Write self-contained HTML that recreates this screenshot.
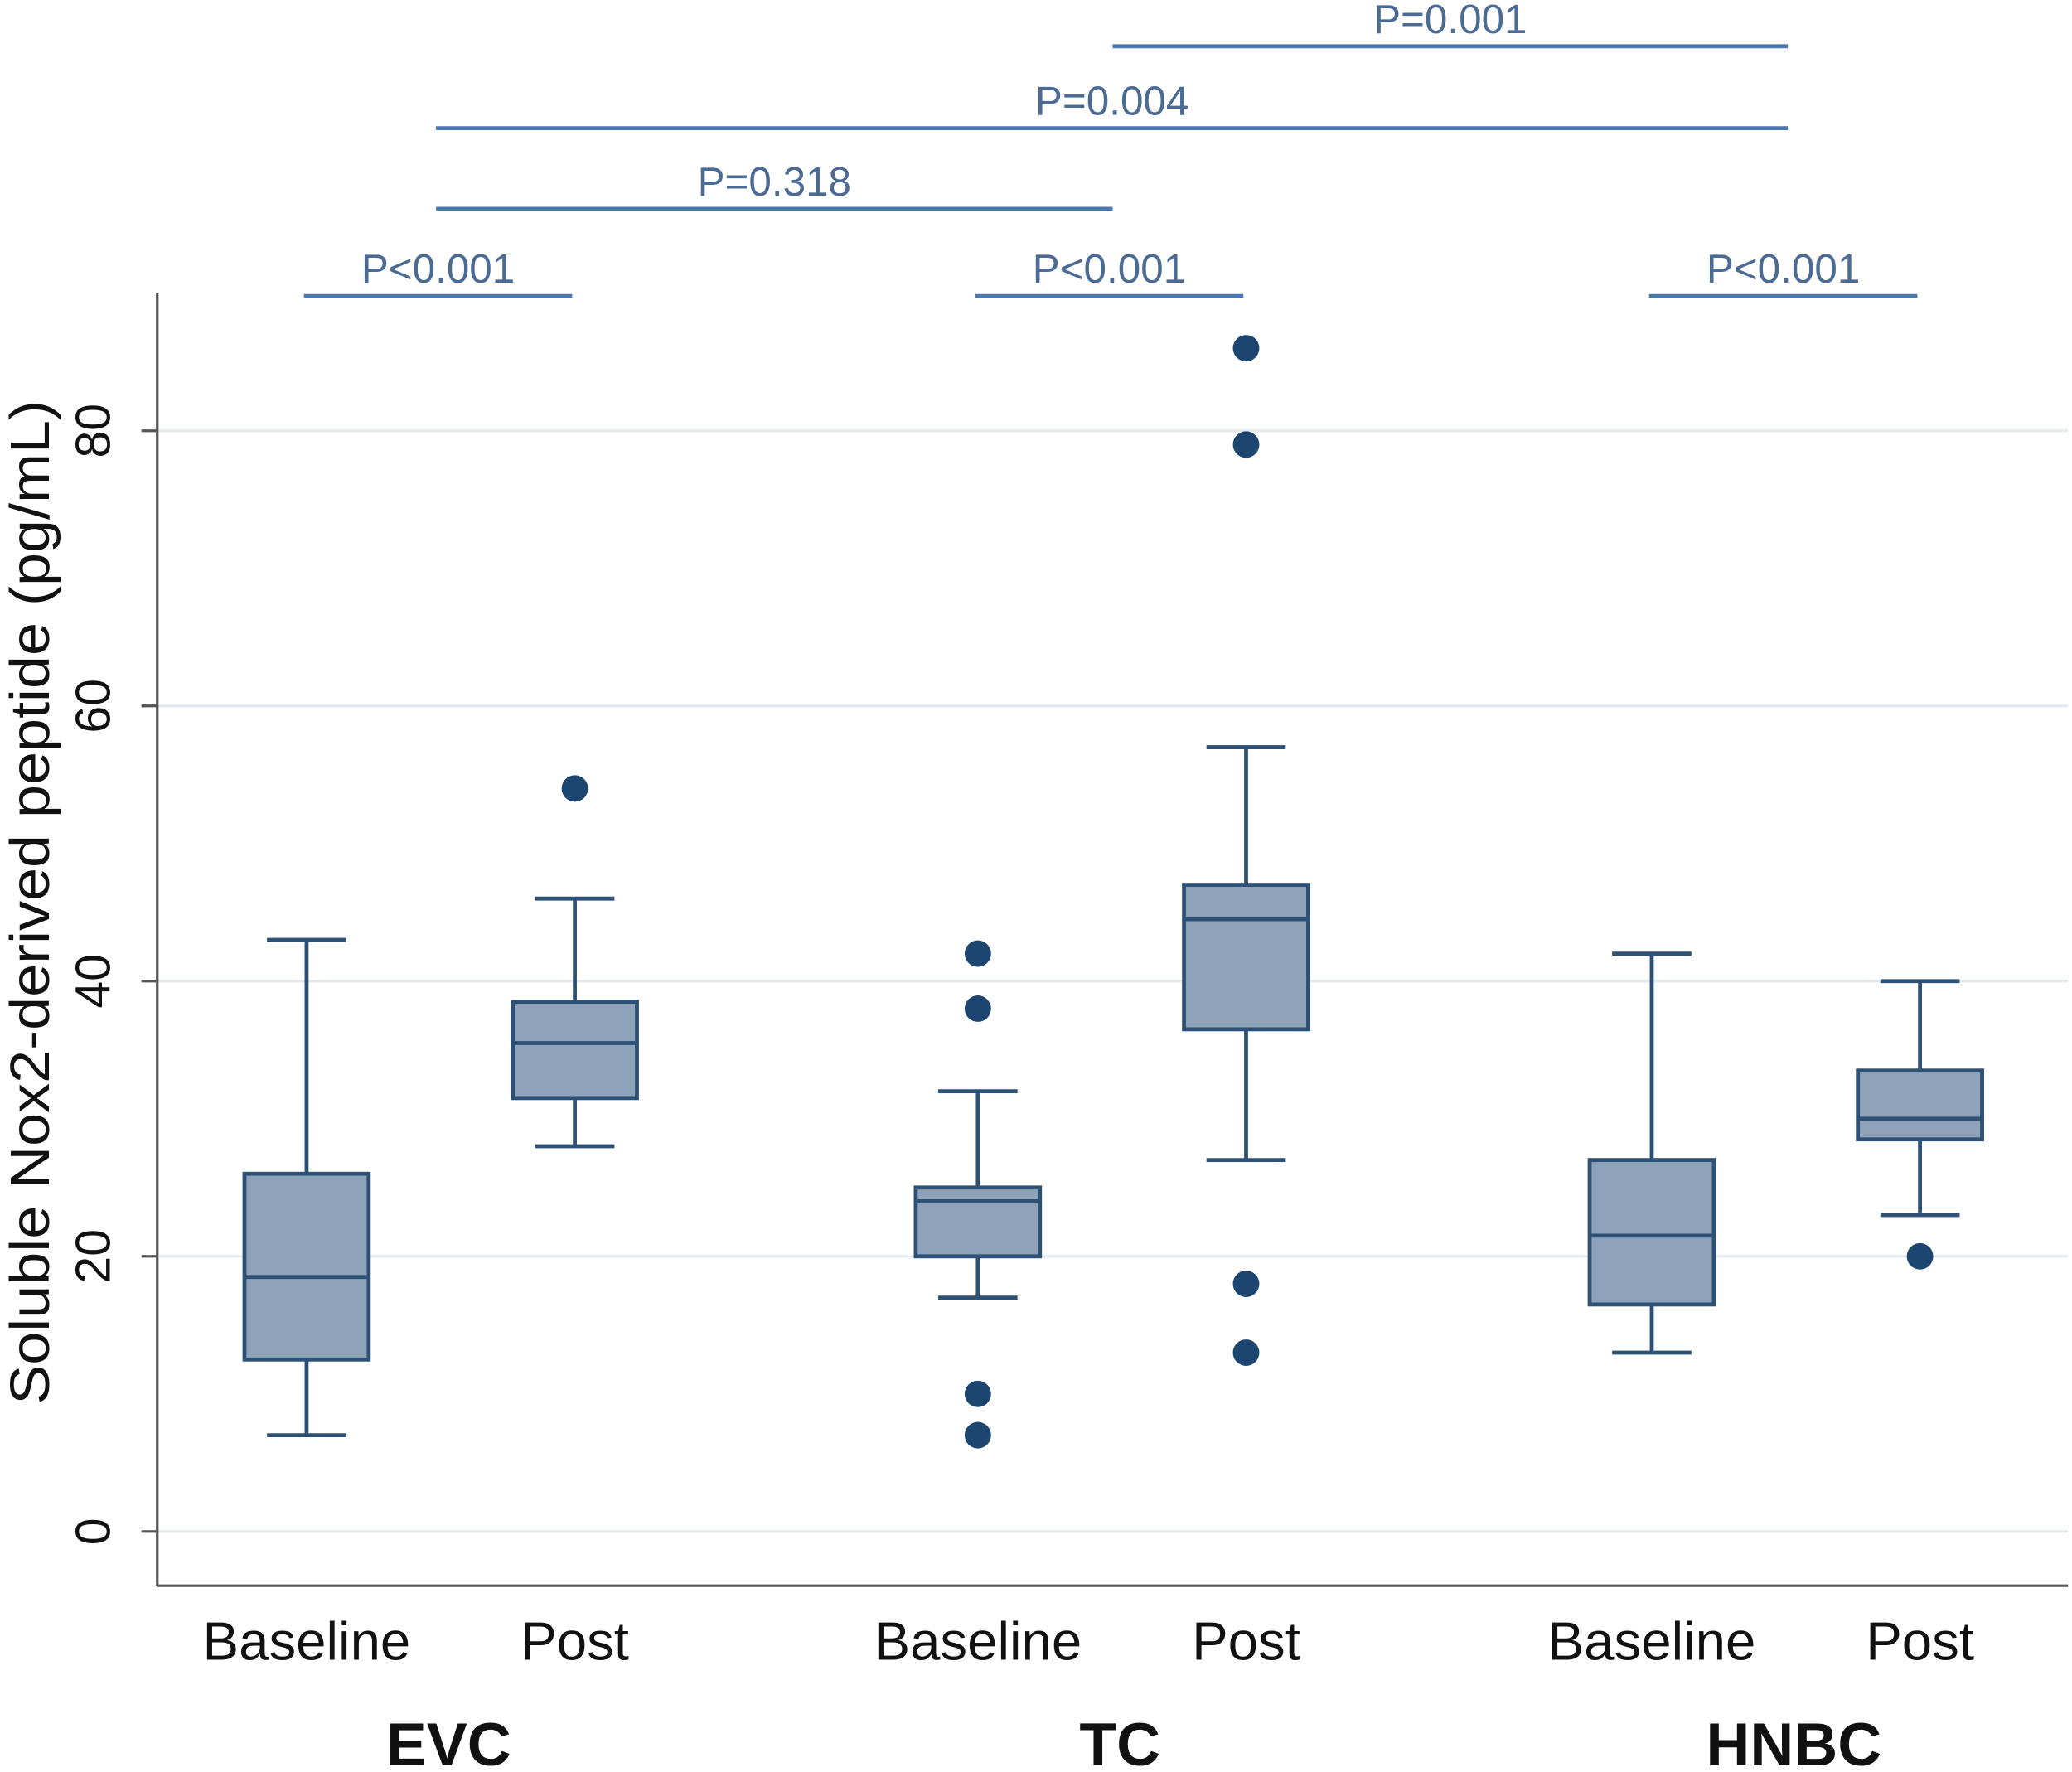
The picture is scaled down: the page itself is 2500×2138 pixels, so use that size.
<!DOCTYPE html>
<html><head><meta charset="utf-8"><style>
html,body{margin:0;padding:0;background:#fff;}
svg{display:block;}
</style></head><body>
<svg id="chart" width="2500" height="2138" viewBox="0 0 1568 1341" xmlns="http://www.w3.org/2000/svg" font-family="Liberation Sans, sans-serif"></svg>
<script>
const categories = ["Baseline","Post","Baseline","Post","Baseline","Post"];
const groups = ["EVC","TC","HNBC"];
const whiskerLow = [7,28,17,27,13,23];
const q1 = [12.5,31.5,20,36.5,16.5,28.5];
const medians = [18.5,35.5,24,44.5,21.5,30];
const q3 = [26,38.5,25,47,27,33.5];
const whiskerHigh = [43,46,32,57,42,40];
const outliers = [[],[54],[42,38,10,7],[86,79,18,13],[],[20]];
const yTicks = [0,20,40,60,80];
const brackets = [
  {from:0,to:1,level:0,label:"P<0.001"},
  {from:2,to:3,level:0,label:"P<0.001"},
  {from:4,to:5,level:0,label:"P<0.001"},
  {from:1,to:3,level:1,label:"P=0.318"},
  {from:1,to:5,level:2,label:"P=0.004"},
  {from:3,to:5,level:3,label:"P=0.001"}
];

const NS="http://www.w3.org/2000/svg";
const svg=document.getElementById('chart');
function mk(tag,attrs,parent){const e=document.createElementNS(NS,tag);for(const k in attrs)e.setAttribute(k,attrs[k]);(parent||svg).appendChild(e);return e;}
const y0=1159, yPerUnit=(1159-326)/80;
const yScale=v=>y0-v*yPerUnit;
const centers=[232,435,740,943,1250,1453];
const xScale=i=>centers[i];
const axisX=119, axisBottom=1200, axisTop=222, rightX=1565;

yTicks.forEach(t=>{
  const y=yScale(t);
  const g=mk('line',{x1:axisX,x2:rightX,y1:y,y2:y,stroke:'#e3e9ee','stroke-width':2});
  
  
  const tk=mk('line',{x1:axisX-12,x2:axisX,y1:y,y2:y,stroke:'#555','stroke-width':2});
  
  
  const tx=mk('text',{x:0,y:0,transform:`translate(83,${y}) rotate(-90)`,'text-anchor':'middle','font-size':37,fill:'#111'});
  tx.textContent=t;
  
  
});
const ya=mk('line',{x1:axisX,x2:axisX,y1:axisTop,y2:axisBottom,stroke:'#555','stroke-width':2});


const xa=mk('line',{x1:axisX,x2:rightX,y1:axisBottom,y2:axisBottom,stroke:'#555','stroke-width':2});


const yt=mk('text',{x:0,y:0,transform:'translate(37,683) rotate(-90)','text-anchor':'middle','font-size':42,textLength:760,lengthAdjust:'spacingAndGlyphs',fill:'#111'});
yt.textContent='Soluble Nox2-derived peptide (pg/mL)';



const stroke='#2d5075', fill='#8ea3b9', hw=47, cw=30;
categories.forEach((c,i)=>{
  const x=xScale(i);
  const g=mk('g',{});
  
  
  mk('line',{x1:x,x2:x,y1:yScale(whiskerHigh[i]),y2:yScale(q3[i]),stroke,'stroke-width':3},g);
  mk('line',{x1:x,x2:x,y1:yScale(q1[i]),y2:yScale(whiskerLow[i]),stroke,'stroke-width':3},g);
  mk('line',{x1:x-cw,x2:x+cw,y1:yScale(whiskerHigh[i]),y2:yScale(whiskerHigh[i]),stroke,'stroke-width':3},g);
  mk('line',{x1:x-cw,x2:x+cw,y1:yScale(whiskerLow[i]),y2:yScale(whiskerLow[i]),stroke,'stroke-width':3},g);
  mk('rect',{x:x-hw,y:yScale(q3[i]),width:2*hw,height:yScale(q1[i])-yScale(q3[i]),fill,stroke,'stroke-width':3},g);
  mk('line',{x1:x-hw,x2:x+hw,y1:yScale(medians[i]),y2:yScale(medians[i]),stroke,'stroke-width':3},g);
  outliers[i].forEach(v=>{
    const o=mk('circle',{cx:x,cy:yScale(v),r:10,fill:'#1c4670'});
    
    
  });
  const l=mk('text',{x:x,y:1256,'text-anchor':'middle','font-size':41,fill:'#111'});
  l.textContent=c;
  
  
});
groups.forEach((gname,k)=>{
  const x=(xScale(2*k)+xScale(2*k+1))/2+6;
  const t=mk('text',{x:x,y:1336,'text-anchor':'middle','font-size':46,'font-weight':'bold',fill:'#111'});
  t.textContent=gname;
  
  
});
const levelY=[224,158,97,35];
brackets.forEach(b=>{
  let x1=xScale(b.from), x2=xScale(b.to);
  if(b.level===0){x1-=2;x2-=2;} else {x1=(b.level===3)?842:330; x2=b.level===1?842:1353;}
  const ln=mk('line',{x1,x2,y1:levelY[b.level],y2:levelY[b.level],stroke:'#4a78b0','stroke-width':3});
  
  
  const t=mk('text',{x:(x1+x2)/2,y:levelY[b.level]-10,'text-anchor':'middle','font-size':31,fill:'#4b6b95'});
  t.textContent=b.label;
  
  
});
</script>
</body></html>
